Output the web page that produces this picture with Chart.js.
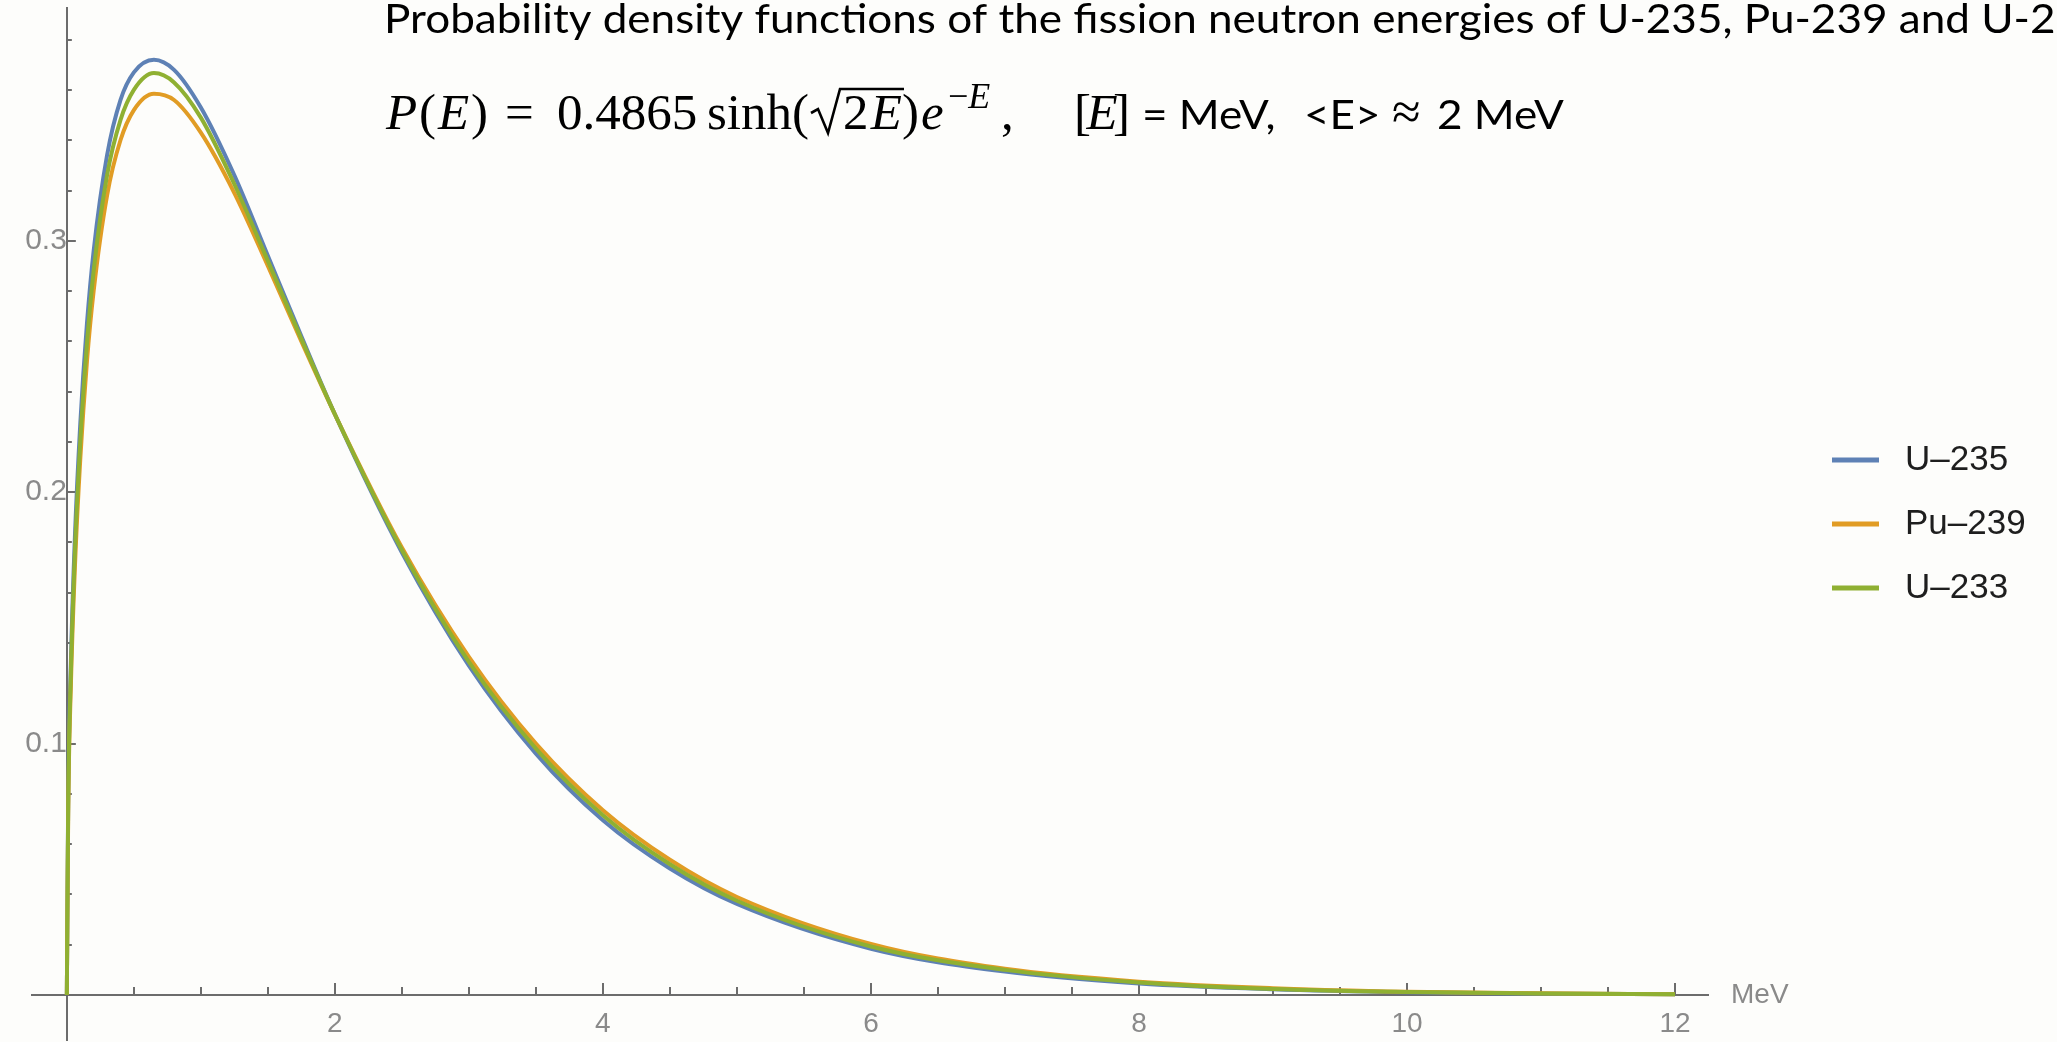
<!DOCTYPE html>
<html>
<head>
<meta charset="utf-8">
<title>Fission neutron energy spectra</title>
<script src="https://cdn.jsdelivr.net/npm/chart.js@4.4.1/dist/chart.umd.min.js"></script>
<style>
  html, body { margin: 0; padding: 0; background: #fdfdfb; }
  canvas { display: block; }
</style>
</head>
<body>
<canvas id="spectraChart" width="2057" height="1042"></canvas>
<script>
// Fission neutron spectra P(E), sampled at these energies (MeV)
const energies = [0, 0.01, 0.03, 0.06, 0.1, 0.15, 0.2, 0.3, 0.4, 0.5, 0.65, 0.8, 1, 1.25, 1.5, 1.75,
    2, 2.5, 3, 3.5, 4, 4.5, 5, 6, 7, 8, 9, 10, 11, 12];

const u235Density = [0, 0.078, 0.132, 0.182, 0.227, 0.267, 0.296, 0.334, 0.356, 0.367, 0.372, 0.368,
    0.353, 0.326, 0.294, 0.262, 0.231, 0.176, 0.131, 0.096, 0.0695, 0.0503, 0.0362, 0.0184, 0.0093,
    0.0046, 0.0023, 0.0011, 0.0005, 0.0003];
const pu239Density = [0, 0.072, 0.123, 0.170, 0.213, 0.252, 0.280, 0.318, 0.340, 0.352, 0.3585, 0.356,
    0.343, 0.319, 0.290, 0.260, 0.231, 0.178, 0.1345, 0.100, 0.0735, 0.0538, 0.039, 0.0203, 0.0104,
    0.0053, 0.0027, 0.0013, 0.0007, 0.0003];
const u233Density = [0, 0.075, 0.128, 0.176, 0.220, 0.259, 0.288, 0.326, 0.348, 0.360, 0.3667, 0.363,
    0.349, 0.3225, 0.292, 0.261, 0.231, 0.177, 0.1325, 0.098, 0.0715, 0.052, 0.0375, 0.0193, 0.0100,
    0.0050, 0.0024, 0.0012, 0.0006, 0.0003];

const seriesLabels = ['U\u2013235', 'Pu\u2013239', 'U\u2013233'];
const seriesColors = ['#5e81b5', '#e19c24', '#8fb032'];

const xTickValues = [2, 4, 6, 8, 10, 12];
const yTickValues = [0.1, 0.2, 0.3];
const xUnitLabel = 'MeV';

const titleText = 'Probability density functions of the fission neutron energies of U-235, Pu-239 and U-233';

const AXIS_COLOR = '#6c6c6c';
const TICK_TEXT = '#8a8a8a';
const TICK_FONT = '"Liberation Sans", Arial, sans-serif';
const SANS = 'Lato, "Open Sans", sans-serif';
const SERIF = '"Liberation Serif", "DejaVu Serif", serif';

function toPoints(values) {
    return energies.map((e, i) => ({ x: e, y: values[i] }));
}

// axes sit inside the plot, so their label overhang must not shrink the area
function noOverhang(scale) {
    scale.paddingTop = 0;
    scale.paddingBottom = 0;
    scale.paddingLeft = 0;
    scale.paddingRight = 0;
}

// background, tick marks pointing into the plot, and all the text around it
const plotDecor = {
    id: 'plotDecor',
    beforeDraw(chart) {
        const ctx = chart.ctx;
        ctx.save();
        ctx.fillStyle = '#fdfdfb';
        ctx.fillRect(0, 0, chart.width, chart.height);
        ctx.restore();
    },
    beforeDatasetsDraw(chart) {
        const { ctx, scales: { x, y } } = chart;
        const x0 = x.getPixelForValue(0);
        const y0 = y.getPixelForValue(0);
        ctx.save();
        ctx.strokeStyle = AXIS_COLOR;
        ctx.lineWidth = 2;
        ctx.beginPath();
        for (let i = 1; i <= 24; i++) {
            const px = Math.round(x.getPixelForValue(i * 0.5));
            const len = (i % 4 === 0) ? 12 : 8;
            ctx.moveTo(px, y0);
            ctx.lineTo(px, y0 - len);
        }
        for (let i = 1; i <= 19; i++) {
            const py = Math.round(y.getPixelForValue(i * 0.02));
            const len = (i % 5 === 0) ? 9 : 5;
            ctx.moveTo(x0, py);
            ctx.lineTo(x0 + len, py);
        }
        ctx.stroke();
        ctx.restore();
    },
    afterDraw(chart) {
        const { ctx, scales: { y } } = chart;
        ctx.save();

        // unit label at the end of the energy axis
        ctx.fillStyle = TICK_TEXT;
        ctx.font = '28px ' + TICK_FONT;
        ctx.textBaseline = 'middle';
        ctx.textAlign = 'left';
        ctx.fillText(xUnitLabel, 1731, y.getPixelForValue(0));

        // legend
        ctx.font = '35px ' + TICK_FONT;
        ctx.lineWidth = 5;
        seriesLabels.forEach((label, i) => {
            const rowY = 460 + i * 64;
            ctx.strokeStyle = seriesColors[i];
            ctx.beginPath();
            ctx.moveTo(1832, rowY);
            ctx.lineTo(1879, rowY);
            ctx.stroke();
            ctx.fillStyle = '#1e1e1e';
            ctx.fillText(label, 1905, rowY);
        });

        // title, squeezed to the width it takes in the slide font
        ctx.fillStyle = '#000';
        ctx.textBaseline = 'alphabetic';
        ctx.font = '40px ' + SANS;
        const squeeze = 678 / ctx.measureText('Probability density functions of the').width;
        ctx.save();
        ctx.translate(384, 33);
        ctx.scale(squeeze, 1);
        ctx.fillText(titleText, 0, 0);
        ctx.restore();

        drawFormula(ctx, 129, squeeze);
        ctx.restore();
    }
};

// P(E) = 0.4865 sinh(sqrt(2E)) e^-E,   [E] = MeV,  <E> ≈ 2 MeV
function drawFormula(ctx, base, squeeze) {
    const upright = '51px ' + SERIF;
    const italic = 'italic 51px ' + SERIF;
    // lays the pieces out from x0; with x1 given, spreads them to end there
    const run = (parts, x0, yb, x1) => {
        const widths = parts.map(([text, font]) => { ctx.font = font; return ctx.measureText(text).width; });
        const total = widths.reduce((a, b) => a + b, 0);
        const gap = (x1 && parts.length > 1) ? (x1 - x0 - total) / (parts.length - 1) : 0;
        let x = x0;
        parts.forEach(([text, font], i) => {
            ctx.font = font;
            ctx.fillText(text, x, yb);
            x += widths[i] + gap;
        });
    };
    ctx.fillStyle = '#000';
    run([['P', italic], ['(', upright], ['E', italic], [')', upright]], 386, base, 488);
    run([['=', upright]], 505, base);
    run([['0.4865', upright]], 557, base);
    run([['sinh(', upright]], 707, base);

    // radical sign with its bar over 2E
    ctx.strokeStyle = '#000';
    ctx.lineWidth = 2.6;
    ctx.lineJoin = 'miter';
    ctx.beginPath();
    ctx.moveTo(811, base - 16);
    ctx.lineTo(818, base - 20);
    ctx.lineTo(828, base + 4);
    ctx.lineTo(840, base - 40);
    ctx.lineTo(904, base - 40);
    ctx.stroke();

    run([['2', upright], ['E', italic]], 843, base, 902);
    run([[')', upright]], 902, base);
    run([['e', italic]], 921, base);
    run([['\u2212', '36px ' + SERIF], ['E', 'italic 36px ' + SERIF]], 948, base - 21);
    run([[',', upright]], 1001, base);
    run([['[', upright], ['E', italic], [']', upright]], 1074, base, 1130);

    ctx.save();
    ctx.font = '40px ' + SANS;
    const sansRun = (text, x0) => {
        ctx.save();
        ctx.translate(x0, base);
        ctx.scale(squeeze, 1);
        ctx.fillText(text, 0, 0);
        ctx.restore();
    };
    sansRun('= MeV,', 1142);
    sansRun('<E>', 1304);
    sansRun('2 MeV', 1437);
    ctx.restore();
    run([['\u2248', '52px ' + SERIF]], 1392, base);
}

const ctx = document.getElementById('spectraChart').getContext('2d');
const sources = [u235Density, pu239Density, u233Density];
const drawOrder = [3, 2, 1];

new Chart(ctx, {
    type: 'line',
    data: {
        datasets: sources.map((values, idx) => ({
            label: seriesLabels[idx],
            data: toPoints(values),
            borderColor: seriesColors[idx],
            backgroundColor: seriesColors[idx],
            borderWidth: 4,
            pointRadius: 0,
            fill: false,
            cubicInterpolationMode: 'monotone',
            order: drawOrder[idx],
        }))
    },
    plugins: [plotDecor],
    options: {
        responsive: false,
        animation: false,
        devicePixelRatio: 1,
        layout: { padding: { left: 32, right: 349, top: 8, bottom: 2 } },
        plugins: {
            legend: { display: false },
            tooltip: { enabled: false },
            title: { display: false }
        },
        scales: {
            x: {
                type: 'linear',
                min: -0.26,
                max: 12.246,
                position: { y: 0 },
                grid: { display: false, drawTicks: false },
                border: { display: true, color: AXIS_COLOR, width: 2 },
                afterBuildTicks: (axis) => { axis.ticks = xTickValues.map(v => ({ value: v })); },
                afterFit: noOverhang,
                ticks: {
                    autoSkip: false,
                    maxRotation: 0,
                    padding: 12,
                    color: TICK_TEXT,
                    font: { family: TICK_FONT, size: 28 },
                    callback: (v) => String(v)
                }
            },
            y: {
                type: 'linear',
                min: -0.0179,
                max: 0.3926,
                position: { x: 0 },
                grid: { display: false, drawTicks: false },
                border: { display: true, color: AXIS_COLOR, width: 2 },
                afterBuildTicks: (axis) => { axis.ticks = yTickValues.map(v => ({ value: v })); },
                afterFit: noOverhang,
                ticks: {
                    autoSkip: false,
                    padding: 23,
                    color: TICK_TEXT,
                    font: { family: TICK_FONT, size: 30 },
                    callback: (v) => Number(v).toFixed(1)
                }
            }
        }
    }
});
</script>
</body>
</html>
